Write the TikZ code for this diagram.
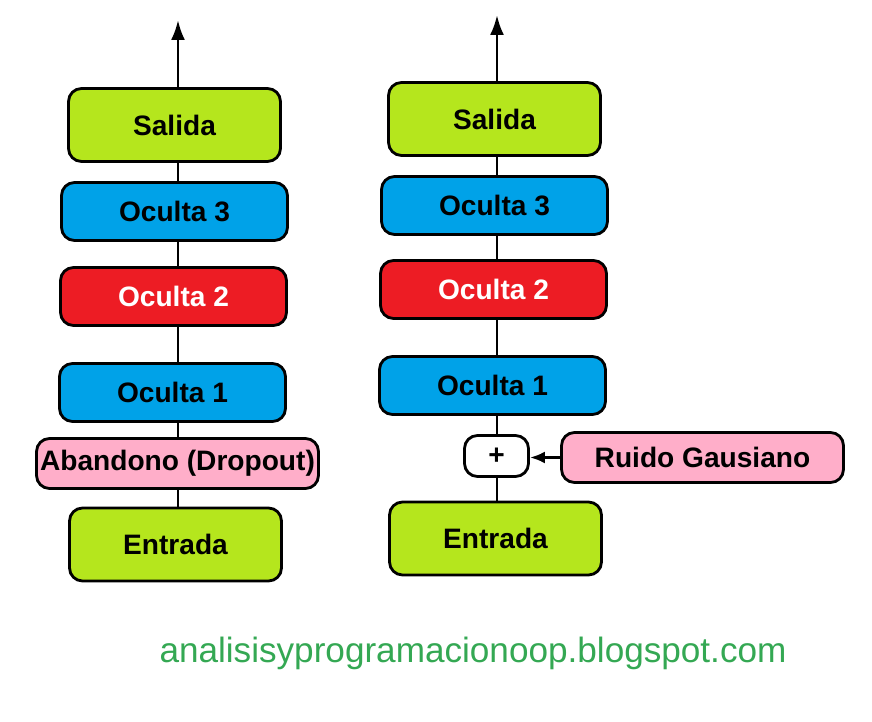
\documentclass[tikz,border=0pt]{standalone}
\usepackage{fontspec}
\setmainfont{Liberation Sans}
\usepackage{xcolor}
\usepackage{tikz}
\usetikzlibrary{arrows.meta, positioning, calc}
\definecolor{verdecapa}{RGB}{181,230,29}
\definecolor{azulcapa}{RGB}{0,162,232}
\definecolor{rojocapa}{RGB}{237,28,36}
\definecolor{rosacapa}{RGB}{255,174,201}
\definecolor{verdeblog}{RGB}{52,168,83}
\tikzset{
	capa/.style={rectangle, draw, line width=1.6pt, rounded corners=2.6mm, text centered, font=\fontsize{16}{18}\selectfont\bfseries},
	extrema/.style={capa, fill=verdecapa, minimum width=4.24cm, minimum height=1.46cm},
	oculta/.style={capa, fill=azulcapa, minimum width=4.52cm, minimum height=1.16cm},
	roja/.style={oculta, fill=rojocapa, text=white},
	rosa/.style={capa, fill=rosacapa, inner xsep=1pt, minimum width=5.64cm, minimum height=1.0cm},
	linea/.style={draw, line width=1.6pt},
	flecha/.style={draw, line width=1.6pt, -{Latex[length=4mm, width=2.8mm]}}
}

\begin{document}
\begin{tikzpicture}[x=0.02cm, y=-0.02cm]
	\useasboundingbox (0,0) rectangle (872,722);
	% Ejes de cada columna
	\coordinate (ejeL) at (178,0);
	\coordinate (ejeR) at (497,0);
	\coordinate (topL) at (178,20);
	\coordinate (topR) at (497,15);
	
	% Red con abandono (izquierda)
	\node[extrema] (salidaL) at (174.5,125) {Salida};
	\node[oculta] (oculta3L) at (174.5,211.5) {Oculta 3};
	\node[roja] (oculta2L) at (173.5,296.5) {Oculta 2};
	\node[oculta] (oculta1L) at (172.5,392.5) {Oculta 1};
	\node[rosa] (abandono) at (177.5,463.5) {Abandono (Dropout)};
	\node[extrema] (entradaL) at (175.5,544.5) {Entrada};
	
	\draw[linea] (entradaL.north -| ejeL) -- (abandono.south -| ejeL);
	\draw[linea] (abandono.north -| ejeL) -- (oculta1L.south -| ejeL);
	\draw[linea] (oculta1L.north -| ejeL) -- (oculta2L.south -| ejeL);
	\draw[linea] (oculta2L.north -| ejeL) -- (oculta3L.south -| ejeL);
	\draw[linea] (oculta3L.north -| ejeL) -- (salidaL.south -| ejeL);
	\draw[flecha] (salidaL.north -| ejeL) -- (topL);
	
	% Red con ruido gausiano (derecha)
	\node[extrema] (salidaR) at (494.5,119) {Salida};
	\node[oculta] (oculta3R) at (494.5,205.5) {Oculta 3};
	\node[roja] (oculta2R) at (493.5,289.5) {Oculta 2};
	\node[oculta] (oculta1R) at (492.5,385.5) {Oculta 1};
	\node[capa, fill=white, minimum width=1.28cm, minimum height=0.82cm] (suma) at (496.5,456) {+};
	\node[rosa] (ruido) at (702.5,457.5) {Ruido Gausiano};
	\node[extrema] (entradaR) at (495.5,538.5) {Entrada};
	
	\draw[linea] (entradaR.north -| ejeR) -- (suma.south -| ejeR);
	\draw[linea] (suma.north -| ejeR) -- (oculta1R.south -| ejeR);
	\draw[linea] (oculta1R.north -| ejeR) -- (oculta2R.south -| ejeR);
	\draw[linea] (oculta2R.north -| ejeR) -- (oculta3R.south -| ejeR);
	\draw[linea] (oculta3R.north -| ejeR) -- (salidaR.south -| ejeR);
	\draw[flecha] (salidaR.north -| ejeR) -- (topR);
	\draw[line width=1.6pt, -{Latex[length=3mm, width=2.4mm]}] (ruido.west) -- (suma.east |- ruido.west);
	
	% Firma del blog
	\node[text=verdeblog, font=\fontsize{20}{24}\selectfont] (blog) at (473,653) {analisisyprogramacionoop.blogspot.com};
\end{tikzpicture}
\end{document}
